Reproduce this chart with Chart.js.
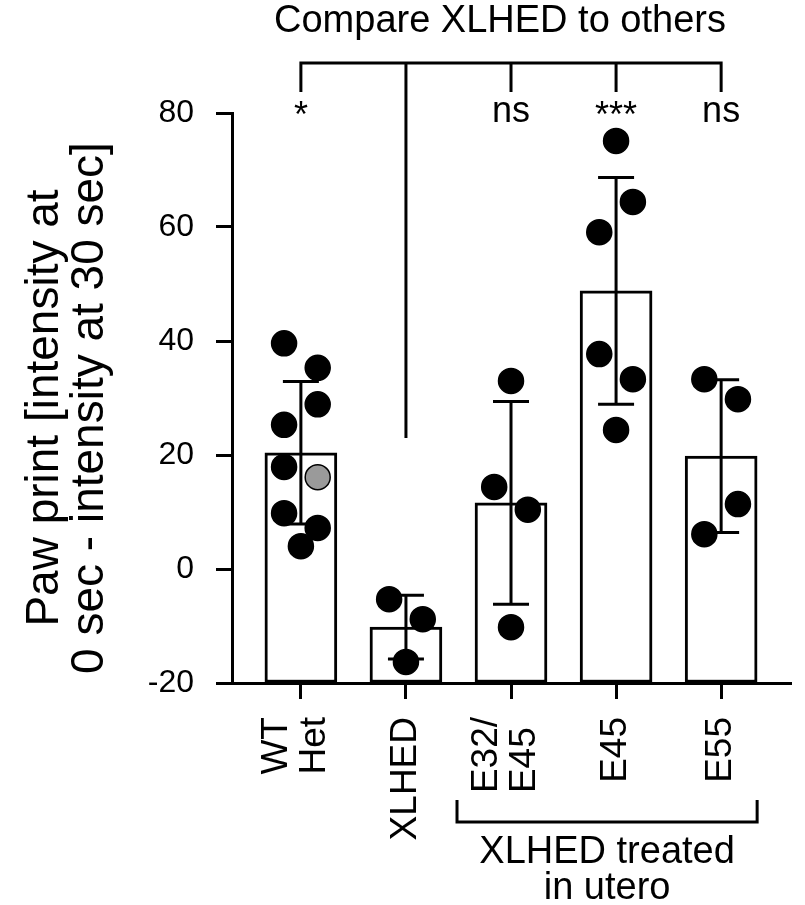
<!DOCTYPE html>
<html>
<head>
<meta charset="utf-8">
<script src="https://cdn.jsdelivr.net/npm/chart.js@4.4.0/dist/chart.umd.min.js"></script>
<style>
 html, body { margin: 0; padding: 0; background: #ffffff; }
 #graphe { display: block; }
</style>
</head>
<body>
<canvas id="graphe" width="805" height="905"></canvas>
<script>
 var Groupes        = [ ["WT","Het"], ["XLHED"], ["E32/","E45"], ["E45"], ["E55"] ];
 var Moyennes       = [ 20.4, -10.2, 11.6, 48.8, 19.8 ];
 var Ecarts         = [ 12.5, 5.6, 17.8, 19.9, 13.4 ];
 var Points_WT      = [ 39.6, 35.3, 28.9, 25.3, 17.9, 16.1, 9.8, 7.2, 4.0 ];
 var Points_XLHED   = [ -5.3, -8.8, -16.3 ];
 var Points_E32_E45 = [ 33.0, 14.4, 10.4, -10.2 ];
 var Points_E45     = [ 75.1, 64.4, 59.1, 37.7, 33.3, 24.4 ];
 var Points_E55     = [ 33.3, 29.8, 11.4, 6.1 ];
 var Signif         = [ "*", "", "ns", "***", "ns" ];
 var Y_ticks        = [ -20, 0, 20, 40, 60, 80 ];

/******************************************* Mise en page (hors données) ******************************************************/
 var Police   = "'Liberation Sans', Arial, Helvetica, sans-serif";
 var Cotes    = [ [-1,1,1,-1,-1,1,-1,1,0], [-1,1,0], [0,-1,1,0], [0,1,-1,-1,1,0], [-1,1,1,-1] ];  /* gauche/centre/droite */
 var Ecart_x  = 0.16;                                                            /* décalage latéral des points, en catégorie */
 var Gris     = { groupe: 0, index: 5 };                                                       /* le point gris du groupe WT */
 var Fin_XLHED = 23;                                         /* bas du trait vertical XLHED de l'accolade, en unité de l'axe */

 var Series = [ Points_WT, Points_XLHED, Points_E32_E45, Points_E45, Points_E55 ];

 var points = [], couleurs = [];
 for (var g=0; g<Series.length; g++)
  { for (var k=0; k<Series[g].length; k++)
     { points.push ( { x: g + Cotes[g][k]*Ecart_x, y: Series[g][k] } );
       couleurs.push ( (g==Gris.groupe && k==Gris.index) ? "#9a9a9a" : "#000000" );
     }
  }

/********************************* Barres d'erreur, accolades et textes ******************************************************/
 var Annotations =
  { id: "annotations",
    afterDatasetDraw: function (chart, args)
     { if (args.meta.type !== "bar") return;
       var ctx = chart.ctx, sx = chart.scales.x, sy = chart.scales.y;
       ctx.save();
       ctx.strokeStyle = "#000"; ctx.lineWidth = 3; ctx.lineCap = "butt";
       for (var i=0; i<Moyennes.length; i++)
        { var x = sx.getPixelForValue(i);
          var h = sy.getPixelForValue(Moyennes[i]+Ecarts[i]);
          var b = sy.getPixelForValue(Moyennes[i]-Ecarts[i]);
          ctx.beginPath();
          ctx.moveTo(x, h); ctx.lineTo(x, b);
          ctx.moveTo(x-18, h); ctx.lineTo(x+18, h);
          ctx.moveTo(x-18, b); ctx.lineTo(x+18, b);
          ctx.stroke();
        }
       ctx.restore();
     },
    afterDraw: function (chart)
     { var ctx = chart.ctx, sx = chart.scales.x, sy = chart.scales.y;
       ctx.save();
       ctx.fillStyle = "#000"; ctx.strokeStyle = "#000"; ctx.lineWidth = 3;

       /* Titre du haut */
       ctx.font = "38px " + Police;
       ctx.textAlign = "center"; ctx.textBaseline = "middle";
       ctx.fillText ( "Compare XLHED to others", 500, 22 );

       /* Accolade du haut */
       var x0 = sx.getPixelForValue(0), x4 = sx.getPixelForValue(Groupes.length-1);
       ctx.beginPath();
       ctx.moveTo(x0, 92); ctx.lineTo(x0, 63); ctx.lineTo(x4, 63); ctx.lineTo(x4, 92);
       for (var i=1; i<Groupes.length-1; i++)
        { var x = sx.getPixelForValue(i);
          ctx.moveTo(x, 63);
          ctx.lineTo(x, i==1 ? sy.getPixelForValue(Fin_XLHED) : 92);
        }
       ctx.stroke();

       /* Significativité */
       ctx.font = "36px " + Police;
       ctx.textBaseline = "alphabetic";
       for (var i=0; i<Signif.length; i++)
        { var etoiles = (Signif[i].charAt(0) == "*");
          ctx.fillText ( Signif[i], sx.getPixelForValue(i), etoiles ? 127 : 122 );
        }

       /* Libellés de l'axe X, verticaux */
       ctx.font = "37px " + Police;
       ctx.textBaseline = "middle";
       for (var i=0; i<Groupes.length; i++)
        { var lignes = Groupes[i];
          var large = 0;
          for (var k=0; k<lignes.length; k++) large = Math.max ( large, ctx.measureText(lignes[k]).width );
          var xc = sx.getPixelForValue(i) - (lignes.length>1 ? 5 : 0);
          for (var k=0; k<lignes.length; k++)
           { ctx.save();
             ctx.translate ( xc + (k - (lignes.length-1)/2)*38, 717 + large );
             ctx.rotate ( -Math.PI/2 );
             ctx.textAlign = "left";
             ctx.fillText ( lignes[k], 0, 0 );
             ctx.restore();
           }
        }
       ctx.textAlign = "center";

       /* Titre de l'axe Y */
       ctx.save();
       ctx.translate ( 68, (sy.top+sy.bottom)/2 + 10 );
       ctx.rotate ( -Math.PI/2 );
       ctx.font = "46px " + Police;
       ctx.textBaseline = "middle";
       ctx.fillText ( "Paw print [intensity at", 0, -23 );
       ctx.fillText ( "0 sec - intensity at 30 sec]", 0, 22 );
       ctx.restore();

       /* Accolade du bas */
       var g = sx.getPixelForValue(2) - 54, d = sx.getPixelForValue(4) + 36;
       ctx.beginPath();
       ctx.moveTo(g, 800); ctx.lineTo(g, 822); ctx.lineTo(d, 822); ctx.lineTo(d, 800);
       ctx.stroke();
       ctx.font = "38px " + Police;
       ctx.textBaseline = "middle";
       ctx.fillText ( "XLHED treated", (g+d)/2, 853 );
       ctx.fillText ( "in utero", (g+d)/2, 889 );
       ctx.restore();
     }
  };

 var ctx = document.getElementById("graphe").getContext("2d");
 var Graphe = new Chart ( ctx,
  { type: "bar",
    data: { datasets: [ { type: "scatter",
                          data: points,
                          order: 1,
                          pointRadius: 12.5,
                          pointHoverRadius: 12.5,
                          pointBackgroundColor: couleurs,
                          pointBorderColor: "#000",
                          pointBorderWidth: 1.5
                        },
                        { type: "bar",
                          data: Moyennes.map( function (v, i) { return ( { x: i, y: v } ); } ),
                          order: 2,
                          base: -20,
                          barThickness: 72,
                          backgroundColor: "#ffffff",
                          borderColor: "#000000",
                          borderWidth: 3,
                          borderSkipped: false
                        }
                      ]
          },
    options: { responsive: false,
               devicePixelRatio: 1,
               animation: false,
               layout: { padding: { top: 113, right: 5, left: 0, bottom: 0 } },
               plugins: { legend: { display: false }, tooltip: { enabled: false } },
               scales: { x: { type: "linear",
                              offset: false,
                              min: -0.6557, max: 4.665,
                              afterBuildTicks: function (scale)
                               { scale.ticks = Groupes.map( function (item, i) { return ( { value: i } ); } ); },
                              afterFit: function (scale) { scale.height = 905 - 683; },
                              grid: { offset: false, drawOnChartArea: false, drawTicks: true, tickLength: 16, tickWidth: 3, tickColor: "#000" },
                              border: { display: true, color: "#000", width: 3 },
                              ticks: { display: false, autoSkip: false }
                            },
                         y: { min: -20, max: 80,
                              afterBuildTicks: function (scale)
                               { scale.ticks = Y_ticks.map( function (v) { return ( { value: v } ); } ); },
                              afterFit: function (scale) { scale.width = 232; },
                              grid: { drawOnChartArea: false, drawTicks: true, tickLength: 16, tickWidth: 3, tickColor: "#000" },
                              border: { display: true, color: "#000", width: 3 },
                              ticks: { padding: 22, color: "#000", font: { family: Police, size: 32 } }
                            }
                       }
             },
    plugins: [ Annotations ]
  });
</script>
</body>
</html>
